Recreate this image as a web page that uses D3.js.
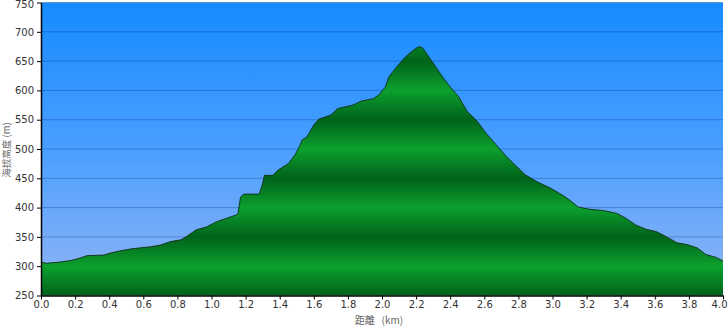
<!DOCTYPE html>
<html>
<head>
<meta charset="utf-8">
<script src="https://cdn.jsdelivr.net/npm/d3@7"></script>
<style>
  body { margin: 0; background: #fff; }
  svg { display: block; }
</style>
</head>
<body>
<div id="chart"></div>
<script>
// distance (km) and elevation (m)
const distKm = [0, 0.03, 0.11, 0.18, 0.23, 0.27, 0.37, 0.40, 0.46, 0.54, 0.64, 0.70, 0.76, 0.82, 0.85, 0.91, 0.97, 1.03, 1.09, 1.14,
  1.155, 1.17, 1.19, 1.28, 1.30, 1.31, 1.36, 1.39, 1.45, 1.49, 1.52, 1.53, 1.56, 1.60, 1.63, 1.70, 1.74, 1.83, 1.88, 1.95,
  1.98, 2.02, 2.04, 2.08, 2.13, 2.16, 2.20, 2.22, 2.24, 2.28, 2.32, 2.36, 2.40, 2.45, 2.50, 2.56, 2.61, 2.67, 2.73, 2.79,
  2.84, 2.91, 2.99, 3.06, 3.10, 3.15, 3.22, 3.30, 3.38, 3.43, 3.49, 3.55, 3.61, 3.67, 3.73, 3.79, 3.85, 3.90, 3.96, 4.0];
const elevM = [307, 305, 307, 310, 314, 318, 319, 322, 326, 330, 333, 336, 342, 345, 350, 362, 367, 376, 382, 387,
  389, 418, 423, 423, 441, 455, 455, 464, 475, 490, 507, 515, 521, 541, 551, 558, 569, 575, 582, 586,
  592, 606, 623, 638, 655, 663, 672, 675, 672, 655, 638, 621, 606, 589, 564, 547, 527, 507, 487, 470,
  456, 444, 433, 421, 413, 401, 397, 395, 390, 382, 370, 363, 359, 350, 340, 337, 331, 320, 315, 309];

const xTicks = [0, 0.2, 0.4, 0.6, 0.8, 1.0, 1.2, 1.4, 1.6, 1.8, 2.0, 2.2, 2.4, 2.6, 2.8, 3.0, 3.2, 3.4, 3.6, 3.8, 4.0];
const yTicks = [250, 300, 350, 400, 450, 500, 550, 600, 650, 700, 750];
const xTitle = "距離\u00a0\u00a0\u00a0(km)";
const yTitle = "海拔高度 (m)";

const width = 728, height = 328;
const margin = {top: 2.5, right: 5, bottom: 32.5, left: 41};

const svg = d3.select('#chart').append('svg')
    .attr('width', width)
    .attr('height', height);

const x = d3.scaleLinear().domain([0, 4]).range([margin.left, width - margin.right]);
const y = d3.scaleLinear().domain([250, 750]).range([height - margin.bottom, margin.top]);

const defs = svg.append('defs');

// sky gradient behind the plot
const sky = defs.append('linearGradient')
    .attr('id', 'sky')
    .attr('x1', 0).attr('y1', 0).attr('x2', 0).attr('y2', 1);
sky.append('stop').attr('offset', 0).attr('stop-color', '#168bff');
sky.append('stop').attr('offset', 0.5).attr('stop-color', '#4a9fff');
sky.append('stop').attr('offset', 1).attr('stop-color', '#93b5f5');

// banded green: dark at 250/350/..., bright at 300/400/...
const ground = defs.append('linearGradient')
    .attr('id', 'ground')
    .attr('gradientUnits', 'userSpaceOnUse')
    .attr('x1', 0).attr('x2', 0)
    .attr('y1', y(750)).attr('y2', y(250));
yTicks.slice().reverse().forEach(v => {
    ground.append('stop')
        .attr('offset', (750 - v) / 500)
        .attr('stop-color', (v / 50) % 2 === 1 ? '#00621a' : '#0ca02e');
});

svg.append('rect')
    .attr('x', x(0))
    .attr('y', y(750))
    .attr('width', x(4) - x(0))
    .attr('height', y(250) - y(750))
    .attr('fill', 'url(#sky)');

// horizontal grid
svg.append('g')
    .selectAll('line')
    .data(yTicks.slice(1))
    .enter()
    .append('line')
    .attr('x1', x(0))
    .attr('x2', x(4))
    .attr('y1', d => y(d))
    .attr('y2', d => y(d))
    .style('stroke', 'rgba(0, 40, 120, 0.3)')
    .style('stroke-width', 1);

const points = distKm.map((d, i) => ({d: d, e: elevM[i]}));

const area = d3.area()
    .x(p => x(p.d))
    .y0(y(250))
    .y1(p => y(p.e));

svg.append('path')
    .datum(points)
    .attr('d', area)
    .attr('fill', 'url(#ground)');

const line = d3.line()
    .x(p => x(p.d))
    .y(p => y(p.e));

svg.append('path')
    .datum(points)
    .attr('d', line)
    .attr('fill', 'none')
    .style('stroke', '#10301a')
    .style('stroke-width', 0.9);

// axes
const xAxis = svg.append('g')
    .attr('transform', `translate(0,${y(250)})`)
    .call(d3.axisBottom(x).tickValues(xTicks).tickFormat(d3.format('.1f')).tickSizeInner(4).tickSizeOuter(0));

const yAxis = svg.append('g')
    .attr('transform', `translate(${x(0)},0)`)
    .call(d3.axisLeft(y).tickValues(yTicks).tickSizeInner(4).tickSizeOuter(0));

[xAxis, yAxis].forEach(a => {
    a.select('.domain').style('stroke', '#000').style('stroke-width', 1.5);
    a.selectAll('.tick line').style('stroke', '#000');
    a.selectAll('text')
        .style('font-family', 'DejaVu Sans, Verdana, sans-serif')
        .style('font-size', '10px')
        .style('fill', '#333');
});
yAxis.selectAll('text').attr('x', -7);
xAxis.selectAll('text').attr('y', 5);

// keep the end labels inside the picture
yAxis.selectAll('.tick text').filter(d => d === 750).attr('dy', '0.75em').attr('y', -3);
xAxis.selectAll('.tick text').filter(d => d === 4).attr('text-anchor', 'end').attr('x', 4);

// axis titles
svg.append('text')
    .attr('x', 379)
    .attr('y', 324)
    .attr('text-anchor', 'middle')
    .text(xTitle)
    .style('font-family', 'Noto Sans CJK TC, DejaVu Sans, sans-serif')
    .style('font-size', '10px')
    .style('fill', '#666');

svg.append('text')
    .attr('transform', 'translate(10,150) rotate(-90)')
    .attr('text-anchor', 'middle')
    .text(yTitle)
    .style('font-family', 'Noto Sans CJK TC, DejaVu Sans, sans-serif')
    .style('font-size', '9.5px')
    .style('fill', '#666');
</script>
</body>
</html>
